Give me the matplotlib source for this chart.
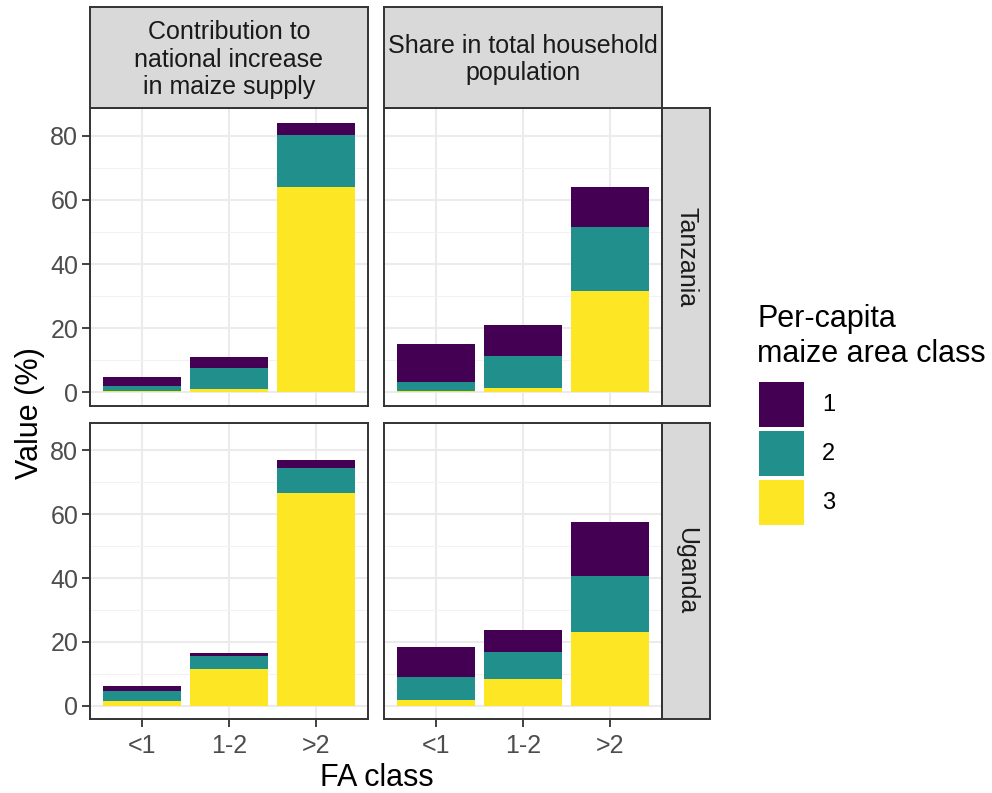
import numpy as np
import matplotlib
matplotlib.use('Agg')
import matplotlib.pyplot as plt
from matplotlib.patches import Rectangle
from matplotlib.ticker import FixedLocator

plt.rcParams['font.family'] = ['Liberation Sans', 'DejaVu Sans']

FA_CLASSES = ['<1', '1-2', '>2']
AREA_CLASSES = ['1', '2', '3']
AREA_COLORS = {'1': '#440154', '2': '#21908C', '3': '#FDE725'}
COUNTRIES = ['Tanzania', 'Uganda']
INDICATORS = ['Contribution to\nnational increase\nin maize supply',
              'Share in total household\npopulation']

# values (%) per area class, by FA class (<1, 1-2, >2)
tz_contrib = {'3': [0.5, 1.15, 64.0], '2': [1.6, 6.35, 16.2], '1': [2.6, 3.5, 3.8]}
tz_share   = {'3': [0.5, 1.5, 31.5],  '2': [2.8, 9.8, 20.0],  '1': [11.8, 9.6, 12.5]}
ug_contrib = {'3': [1.35, 11.4, 66.6], '2': [3.25, 4.1, 7.9], '1': [1.6, 0.9, 2.6]}
ug_share   = {'3': [1.8, 8.2, 23.2],  '2': [7.0, 8.6, 17.5],  '1': [9.5, 7.0, 16.9]}

DATA = [[tz_contrib, tz_share], [ug_contrib, ug_share]]

W, H = 992, 793
fig = plt.figure(figsize=(W / 100, H / 100), dpi=100)

def px_axes(x0, y0, x1, y1):
    return fig.add_axes([x0 / W, 1 - y1 / H, (x1 - x0) / W, (y1 - y0) / H])

COL_X = [(90, 368), (384, 662)]
ROW_Y = [(108, 406), (423, 719)]
BORDER = '#333333'
STRIP_BG = '#D9D9D9'
TICK_FS = 18
YMAX = 84.4

for r, (y0, y1) in enumerate(ROW_Y):
    for c, (x0, x1) in enumerate(COL_X):
        ax = px_axes(x0, y0, x1, y1)
        d = DATA[r][c]
        xs = np.arange(len(FA_CLASSES))
        bottom = np.zeros(len(FA_CLASSES))
        for k in ['3', '2', '1']:
            ax.bar(xs, d[k], width=0.9, bottom=bottom, color=AREA_COLORS[k], lw=0)
            bottom += np.array(d[k])
        ax.set_xlim(-0.6, 2.6)
        ax.set_ylim(-0.05 * YMAX, 1.05 * YMAX)
        ax.set_yticks([0, 20, 40, 60, 80])
        ax.yaxis.set_minor_locator(FixedLocator([10, 30, 50, 70]))
        ax.set_xticks(xs)
        ax.grid(which='major', color='#EBEBEB', lw=1.5)
        ax.grid(which='minor', axis='y', color='#F2F2F2', lw=0.8)
        ax.set_axisbelow(True)
        for sp in ax.spines.values():
            sp.set_color(BORDER)
            sp.set_linewidth(1.4)
        ax.tick_params(which='minor', length=0)
        ax.tick_params(which='major', color=BORDER, width=1.3, length=5.5,
                       labelsize=TICK_FS, labelcolor='#4D4D4D', pad=3)
        ax.tick_params(axis='x', pad=5)
        if c == 0:
            ax.set_yticklabels(['0', '20', '40', '60', '80'])
        else:
            ax.tick_params(axis='y', length=0, labelleft=False)
        if r == 1:
            ax.set_xticklabels(FA_CLASSES)
        else:
            ax.tick_params(axis='x', length=0, labelbottom=False)

# column strips
for c, (x0, x1) in enumerate(COL_X):
    sax = px_axes(x0, 7, x1, 108)
    sax.add_patch(Rectangle((0, 0), 1, 1, transform=sax.transAxes,
                            facecolor=STRIP_BG, edgecolor='none'))
    sax.text(0.5, 0.48, INDICATORS[c], ha='center', va='center',
             fontsize=TICK_FS, color='#1A1A1A', linespacing=1.17)
    sax.set_xticks([]); sax.set_yticks([])
    for sp in sax.spines.values():
        sp.set_color(BORDER); sp.set_linewidth(1.4)

# row strips
for r, (y0, y1) in enumerate(ROW_Y):
    sax = px_axes(662, y0, 710, y1)
    sax.add_patch(Rectangle((0, 0), 1, 1, transform=sax.transAxes,
                            facecolor=STRIP_BG, edgecolor='none'))
    sax.text(0.5, 0.5, COUNTRIES[r], ha='center', va='center',
             fontsize=TICK_FS, color='#1A1A1A', rotation=-90)
    sax.set_xticks([]); sax.set_yticks([])
    for sp in sax.spines.values():
        sp.set_color(BORDER); sp.set_linewidth(1.4)

fig.text(30 / W, 1 - 413 / H, 'Value (%)', rotation=90, ha='center', va='center',
         fontsize=22)
fig.text(377 / W, 1 - 778 / H, 'FA class', ha='center', va='center', fontsize=22)

# legend, drawn by hand to mimic ggplot's key layout
fig.text(757 / W, 1 - 327 / H, 'Per-capita', ha='left', va='baseline', fontsize=22)
fig.text(757 / W, 1 - 362 / H, 'maize area class', ha='left', va='baseline', fontsize=22)
for i, k in enumerate(AREA_CLASSES):
    ky = 382 + i * 49
    fig.add_artist(Rectangle((759 / W, 1 - (ky + 45) / H), 45 / W, 45 / H,
                             transform=fig.transFigure, facecolor=AREA_COLORS[k],
                             edgecolor='none'))
    fig.text(822 / W, 1 - (ky + 23) / H, k, ha='left', va='center', fontsize=17)

fig.savefig('out.png', dpi=100, facecolor='white')
